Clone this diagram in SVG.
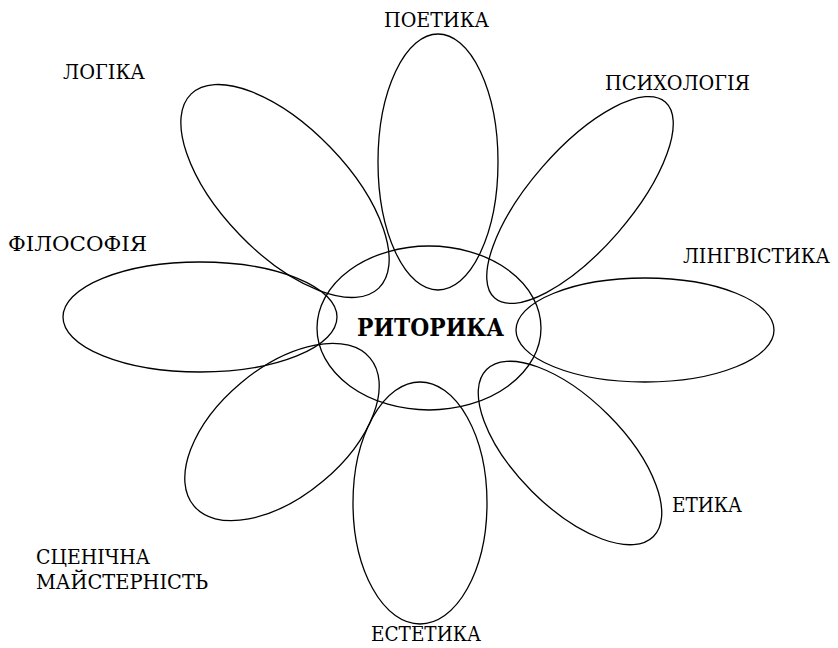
<svg xmlns="http://www.w3.org/2000/svg" width="838" height="648" viewBox="0 0 838 648">
<style>
.p{fill:none;stroke:#000;stroke-width:1.3}
.t{font-size:20px;fill:#000}
.c{font-size:25px;font-weight:bold;fill:#000}
</style>
<rect width="838" height="648" fill="#fff"/>
<g font-family="'DejaVu Serif', 'Liberation Serif', serif">
<g id="petal-logika"><ellipse class="p" cx="285" cy="191" rx="135" ry="63" transform="rotate(46 285 191)"/><text class="t" x="63" y="79" textLength="82" lengthAdjust="spacingAndGlyphs">ЛОГІКА</text></g>
<g id="petal-poetyka"><ellipse class="p" cx="438" cy="162" rx="60" ry="128"/><text class="t" x="384" y="27" textLength="105" lengthAdjust="spacingAndGlyphs">ПОЕТИКА</text></g>
<g id="petal-psykholohiia"><ellipse class="p" cx="580" cy="200" rx="130" ry="50" transform="rotate(-49 580 200)"/><text class="t" x="605" y="90" textLength="145" lengthAdjust="spacingAndGlyphs">ПСИХОЛОГІЯ</text></g>
<g id="petal-filosofiia"><ellipse class="p" cx="200" cy="317" rx="137" ry="55"/><text class="t" x="8" y="251" textLength="139" lengthAdjust="spacingAndGlyphs">ФІЛОСОФІЯ</text></g>
<g id="petal-linhvistyka"><ellipse class="p" cx="645" cy="330" rx="129" ry="52"/><text class="t" x="683" y="263" textLength="147" lengthAdjust="spacingAndGlyphs">ЛІНГВІСТИКА</text></g>
<g id="petal-stsenichna"><ellipse class="p" cx="282" cy="432" rx="115" ry="64" transform="rotate(-40 282 432)"/><text class="t" x="36" y="564" textLength="114" lengthAdjust="spacingAndGlyphs">СЦЕНІЧНА</text><text class="t" x="36" y="589" textLength="172" lengthAdjust="spacingAndGlyphs">МАЙСТЕРНІСТЬ</text></g>
<g id="petal-estetyka"><ellipse class="p" cx="420" cy="503" rx="67" ry="121"/><text class="t" x="371" y="641" textLength="110" lengthAdjust="spacingAndGlyphs">ЕСТЕТИКА</text></g>
<g id="petal-etyka"><ellipse class="p" cx="570" cy="453" rx="118" ry="54" transform="rotate(45 570 453)"/><text class="t" x="672" y="512" textLength="70" lengthAdjust="spacingAndGlyphs">ЕТИКА</text></g>
<g id="center"><ellipse class="p" cx="429" cy="328" rx="112" ry="82"/><text class="c" x="357" y="336" textLength="147" lengthAdjust="spacingAndGlyphs">РИТОРИКА</text></g>
</g>
<g id="connectors"></g>
</svg>
